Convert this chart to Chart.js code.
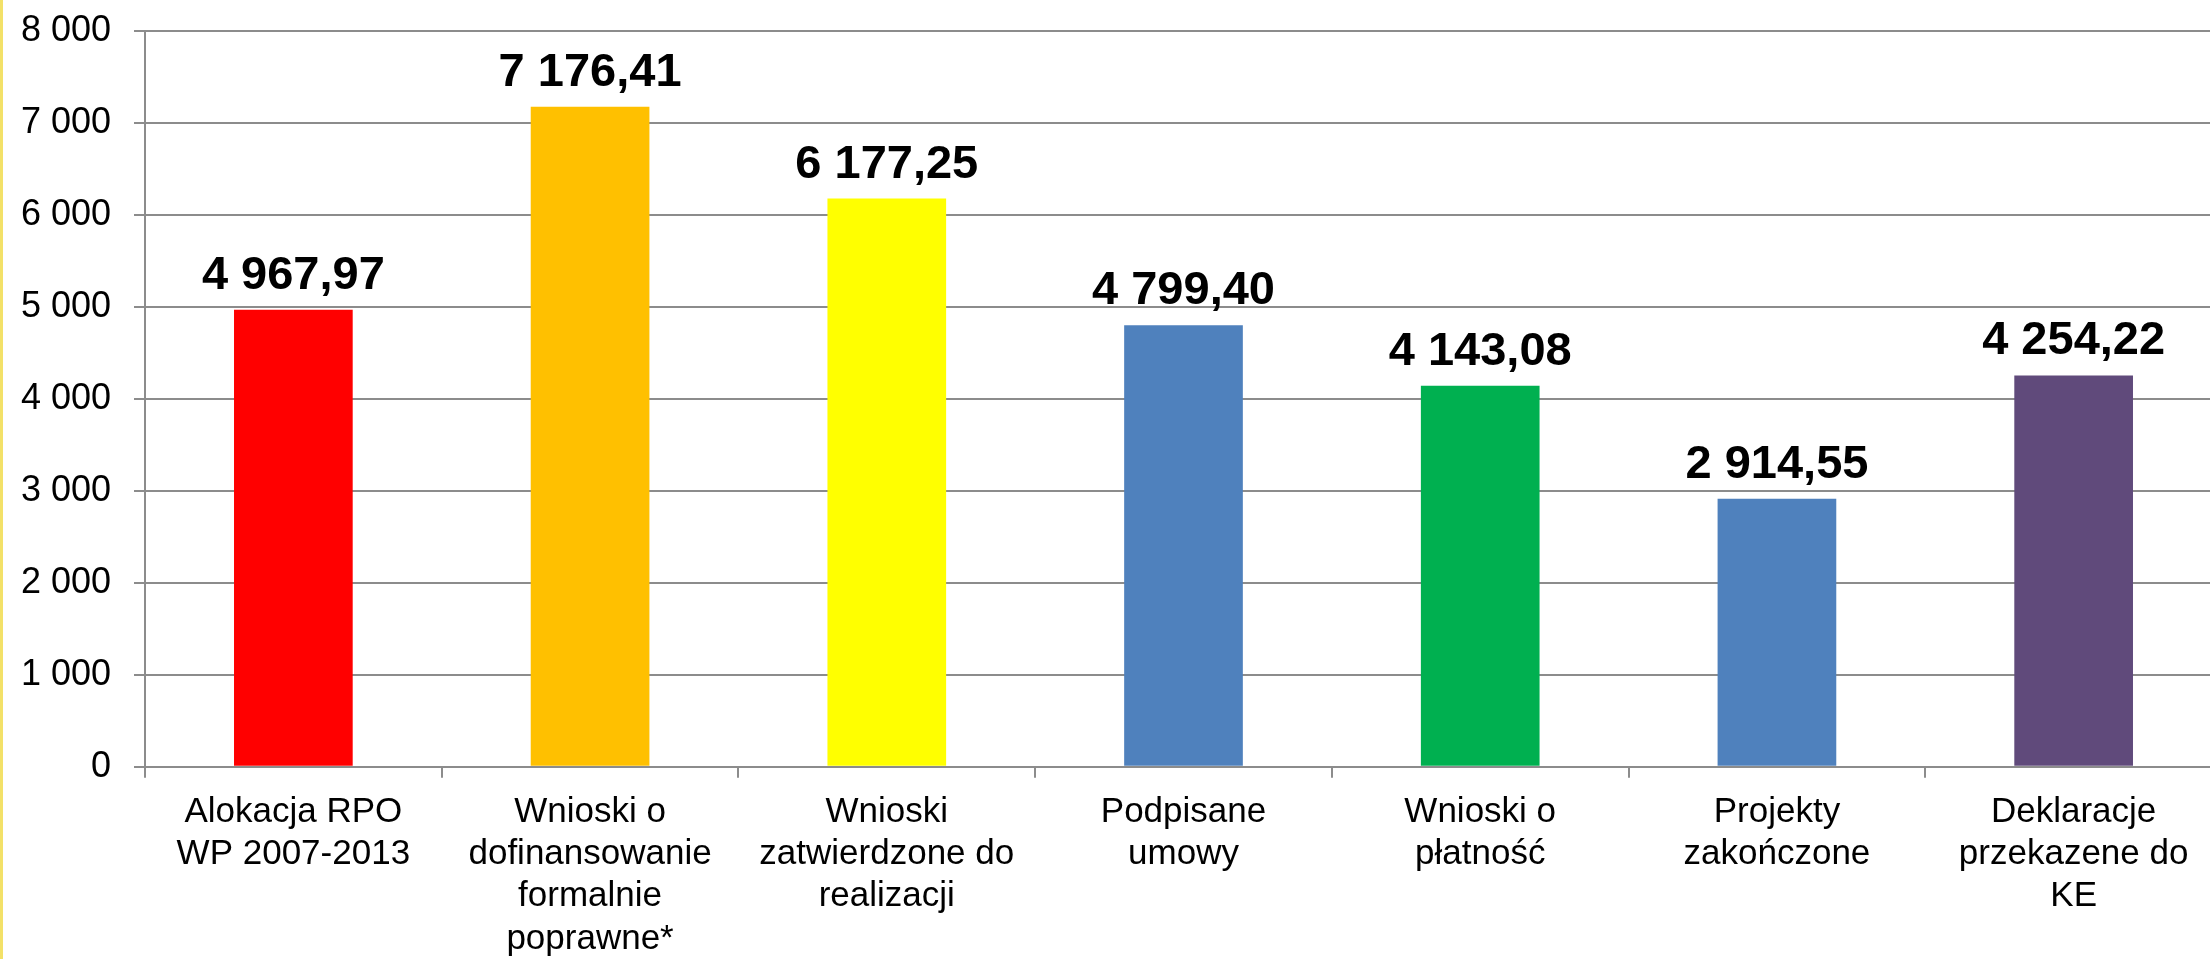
<!DOCTYPE html>
<html>
<head>
<meta charset="utf-8">
<script src="https://cdn.jsdelivr.net/npm/chart.js@4/dist/chart.umd.min.js"></script>
<style>
  html, body { margin: 0; padding: 0; background: #ffffff; overflow: hidden; }
  #strip { position: absolute; left: 0; top: 0; width: 3px; height: 959px; background: #f3e168; z-index: 2; }
  #wrap { position: absolute; left: 0; top: 0; width: 2222px; height: 959px; }
</style>
</head>
<body>
<div id="strip"></div>
<div id="wrap"><canvas id="c"></canvas></div>
<script>
const categories = [
  ["Alokacja RPO", "WP 2007-2013"],
  ["Wnioski o", "dofinansowanie", "formalnie", "poprawne*"],
  ["Wnioski", "zatwierdzone do", "realizacji"],
  ["Podpisane", "umowy"],
  ["Wnioski o", "płatność"],
  ["Projekty", "zakończone"],
  ["Deklaracje", "przekazene do", "KE"]
];
const values = [4967.97, 7176.41, 6177.25, 4799.40, 4143.08, 2914.55, 4254.22];
const valueLabels = ["4 967,97", "7 176,41", "6 177,25", "4 799,40", "4 143,08", "2 914,55", "4 254,22"];
const barColors = ["#FF0000", "#FFC000", "#FFFF00", "#4F81BD", "#00B050", "#4F81BD", "#604A7B"];
const yMin = 0, yMax = 8000, yStep = 1000;

const FONT = "'Liberation Sans', Arial, sans-serif";
const GRID = "#8c8c8c";

const labelPlugin = {
  id: 'valueLabels',
  afterDatasetsDraw(chart) {
    const ctx = chart.ctx;
    const meta = chart.getDatasetMeta(0);
    ctx.save();
    ctx.font = "bold 47px " + FONT;
    ctx.fillStyle = "#000000";
    ctx.textAlign = "center";
    ctx.textBaseline = "alphabetic";
    meta.data.forEach((bar, i) => {
      ctx.fillText(valueLabels[i], bar.x, bar.y - 21);
    });
    ctx.restore();
  }
};

new Chart(document.getElementById('c'), {
  type: 'bar',
  data: {
    labels: categories,
    datasets: [{
      data: values,
      backgroundColor: barColors,
      borderWidth: 0,
      barPercentage: 0.4,
      categoryPercentage: 1.0
    }]
  },
  options: {
    responsive: true,
    maintainAspectRatio: false,
    animation: false,
    devicePixelRatio: 1,
    layout: { padding: { top: 31, left: 0, right: 0, bottom: 0 } },
    plugins: { legend: { display: false }, tooltip: { enabled: false } },
    scales: {
      x: {
        offset: true,
        grid: { offset: true, drawOnChartArea: false, drawTicks: true, tickLength: 11, color: GRID, lineWidth: 2 },
        border: { display: true, color: GRID, width: 2 },
        ticks: {
          color: "#000000",
          font: { family: FONT, size: 35, lineHeight: 1.21 },
          padding: 13,
          maxRotation: 0,
          autoSkip: false
        },
        afterFit(scale) { scale.height = 192.3; scale.paddingLeft = 0; scale.paddingRight = 0; }
      },
      y: {
        min: yMin, max: yMax,
        grid: { color: GRID, lineWidth: 2, tickLength: 11, drawTicks: true },
        border: { display: true, color: GRID, width: 2 },
        ticks: {
          stepSize: yStep,
          color: "#000000",
          font: { family: FONT, size: 36 },
          padding: 23,
          callback: v => String(v).replace(/\B(?=(\d{3})+(?!\d))/g, " ")
        },
        afterFit(scale) { scale.width = 145; scale.paddingTop = 0; scale.paddingBottom = 0; }
      }
    }
  },
  plugins: [labelPlugin]
});
</script>
</body>
</html>
